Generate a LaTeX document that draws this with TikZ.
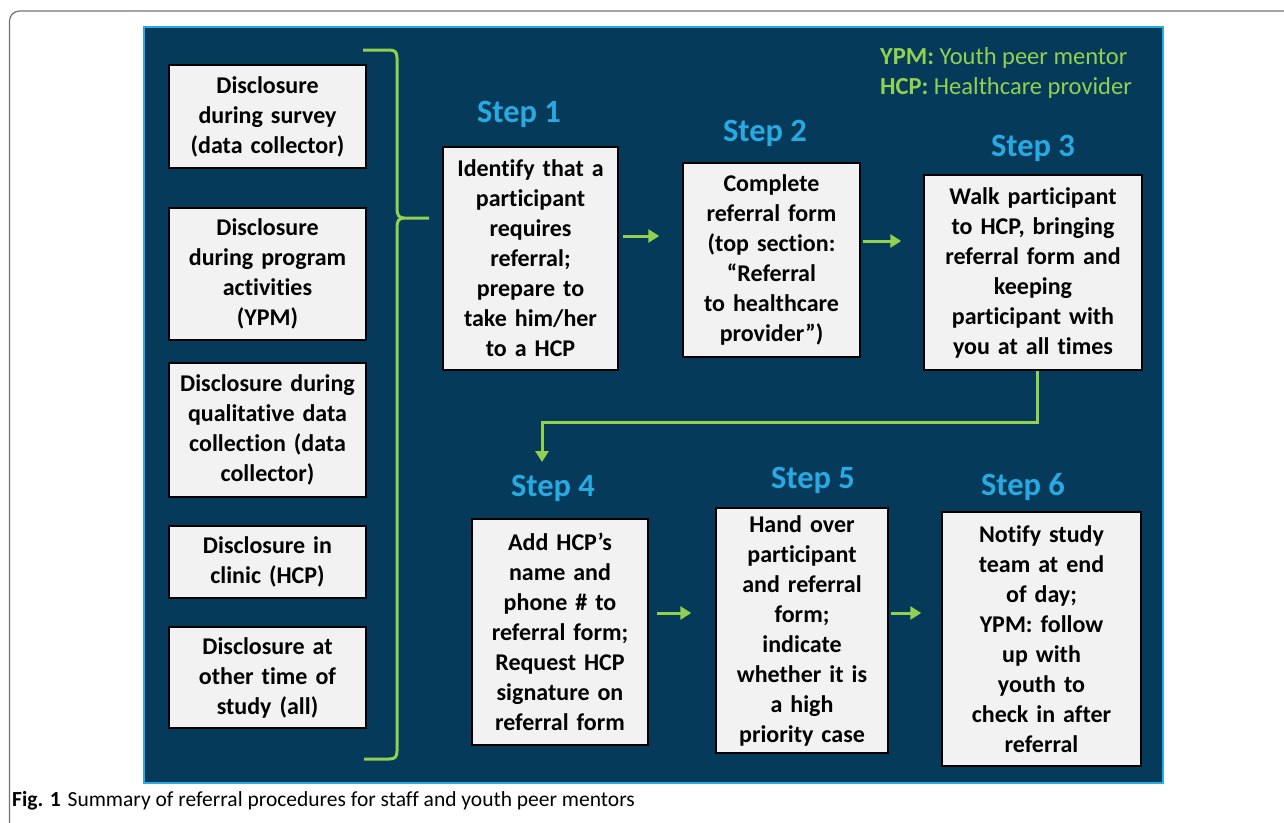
\documentclass[tikz,border=0pt]{standalone}
\usepackage{fontspec}
\setmainfont{Carlito}[Ligatures=NoCommon]
\usetikzlibrary{arrows.meta}
\definecolor{panel}{RGB}{5,58,90}
\definecolor{rim}{RGB}{41,171,226}
\definecolor{lime}{RGB}{146,208,80}
\definecolor{stepblue}{RGB}{41,169,225}
\definecolor{boxgray}{RGB}{242,242,242}
\tikzset{
  card/.style={draw=black, line width=1.5pt, fill=boxgray, align=center, inner xsep=3pt, inner ysep=0pt,
    font=\bfseries\fontsize{24}{30}\selectfont},
  steplabel/.style={text=stepblue, inner sep=0pt, font=\bfseries\fontsize{32.5}{38}\selectfont},
  flow/.style={draw=lime, line width=3pt, -{Triangle[length=11pt,width=13pt]}},
}
\begin{document}
\begin{tikzpicture}[x=1pt,y=-1pt]
                \useasboundingbox (0,0) rectangle (1284,822);
                \draw[black!55, line width=1.2pt, rounded corners=10pt] (9.5,11) rectangle (1320,860);
                \draw[rim, line width=2.5pt, fill=panel] (144,27) rectangle (1163,783);

                \node[card, text width=191pt, minimum height=103pt] (d1) at (267.5,116.5) {Disclosure\\during survey\\(data collector)};
                \node[card, text width=191pt, minimum height=132pt] (d2) at (267.5,274) {Disclosure\\during program\\activities\\(YPM)};
                \node[card, text width=191pt, minimum height=134pt] (d3) at (267.5,430) {Disclosure during\\qualitative data\\collection (data\\collector)};
                \node[card, text width=191pt, minimum height=72pt] (d4) at (267.5,562) {Disclosure in\\clinic (HCP)};
                \node[card, text width=191pt, minimum height=101pt] (d5) at (267.5,677.5) {Disclosure at\\other time of\\study (all)};

                \draw[lime, line width=3pt] (363,50) -- (389,50) .. controls (395,50) and (397,52) .. (397,58) -- (397,209) .. controls (397,215) and (399,218) .. (404,218) -- (429,218);
                \draw[lime, line width=3pt] (404,218) .. controls (399,218) and (397,221) .. (397,227) -- (397,751) .. controls (397,757) and (395,759) .. (389,759) -- (364,759);

                \node[steplabel] (l1) at (519,114) {Step 1};
                \node[steplabel] (l2) at (765,133) {Step 2};
                \node[steplabel] (l3) at (1033,148) {Step 3};
                \node[steplabel] (l4) at (553,488) {Step 4};
                \node[steplabel] (l5) at (813,480) {Step 5};
                \node[steplabel] (l6) at (1023,487) {Step 6};

                \node[card, text width=169pt, minimum height=223pt] (s1) at (530.5,258.5) {Identify that a\\participant\\requires\\referral;\\prepare to\\take him/her\\to a HCP};
                \node[card, text width=171pt, minimum height=194pt] (s2) at (771.5,260) {Complete\\referral form\\(top section:\\“Referral\\to healthcare\\provider”)};
                \node[card, text width=212pt, minimum height=195pt] (s3) at (1033,272.5) {Walk participant\\to HCP, bringing\\referral form and\\keeping\\participant with\\you at all times};
                \node[card, text width=170pt, minimum height=226pt] (s4) at (560,632) {Add HCP’s\\name and\\phone \# to\\referral form;\\Request HCP\\signature on\\referral form};
                \node[card, text width=166pt, minimum height=245pt] (s5) at (802,630.5) {Hand over\\participant\\and referral\\form;\\indicate\\whether it is\\a high\\priority case};
                \node[card, text width=193pt, minimum height=254pt] (s6) at (1041.5,639) {Notify study\\team at end\\of day;\\YPM: follow\\up with\\youth to\\check in after\\referral};

                \node[anchor=north west, align=left, text=lime, inner sep=0pt, font=\fontsize{24.5}{30}\selectfont] (legend) at (880,47) {\textbf{YPM:} Youth peer mentor\\\textbf{HCP:} Healthcare provider};

                \coordinate (bend) at (542,422);
                \coordinate (drop) at (542,462);

                \draw[flow, shorten <=4pt, shorten >=23pt] ([yshift=22.5pt]s1.east) to ([yshift=24pt]s2.west);
                \draw[flow, shorten <=2pt, shorten >=22pt] ([yshift=19pt]s2.east) to ([yshift=31.5pt]s3.west);
                \draw[flow] ([xshift=4pt]s3.south) |- (bend) -- (drop);
                \draw[flow, shorten <=8pt, shorten >=24pt] ([yshift=19pt]s4.east) to ([yshift=17.5pt]s5.west);
                \draw[flow, shorten <=2pt, shorten >=20pt] ([yshift=17.5pt]s5.east) to ([yshift=26pt]s6.west);

                \node[anchor=base west, inner sep=0pt, font=\fontsize{21.5}{24}\selectfont] (cap) at (12,806) {\textbf{Fig. 1}\hspace{7pt}Summary of referral procedures for staff and youth peer mentors};
            \end{tikzpicture}
\end{document}
